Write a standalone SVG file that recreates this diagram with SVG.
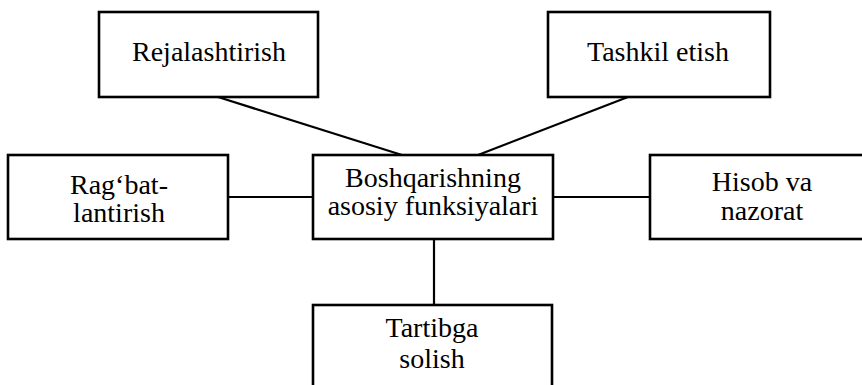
<svg xmlns="http://www.w3.org/2000/svg" width="862" height="385" viewBox="0 0 862 385">
<style>
.box{fill:#fff;stroke:#000;stroke-width:2.6}
.c{stroke:#000;stroke-width:2.2;fill:none}
</style>
<rect width="862" height="385" fill="#fff"/>
<g id="connectors">
<line class="c" x1="218" y1="97" x2="402" y2="155"/>
<line class="c" x1="628" y1="97" x2="478" y2="155"/>
<line class="c" x1="228" y1="197" x2="313" y2="197"/>
<line class="c" x1="553" y1="197" x2="650" y2="197"/>
<line class="c" x1="434" y1="239" x2="434" y2="305"/>
</g>
<g font-family="Liberation Serif" font-size="28" text-anchor="middle" fill="#000">
<g id="rejalashtirish">
<rect class="box" x="99" y="12" width="219" height="85"/>
<text x="209" y="61">Rejalashtirish</text>
</g>
<g id="tashkil">
<rect class="box" x="548" y="12" width="222" height="85"/>
<text x="658" y="61">Tashkil etish</text>
</g>
<g id="ragbat">
<rect class="box" x="8" y="155" width="220" height="84"/>
<text x="119" y="194">Rag‘bat-</text>
<text x="119" y="222">lantirish</text>
</g>
<g id="center">
<rect class="box" x="313" y="155" width="240" height="84"/>
<text x="433" y="187">Boshqarishning</text>
<text x="433" y="215">asosiy funksiyalari</text>
</g>
<g id="hisob">
<rect class="box" x="650" y="155" width="224" height="84"/>
<text x="762" y="191">Hisob va</text>
<text x="762" y="220">nazorat</text>
</g>
<g id="tartibga">
<rect class="box" x="313" y="305" width="239" height="100"/>
<text x="432" y="337">Tartibga</text>
<text x="432" y="368">solish</text>
</g>
</g>
</svg>
